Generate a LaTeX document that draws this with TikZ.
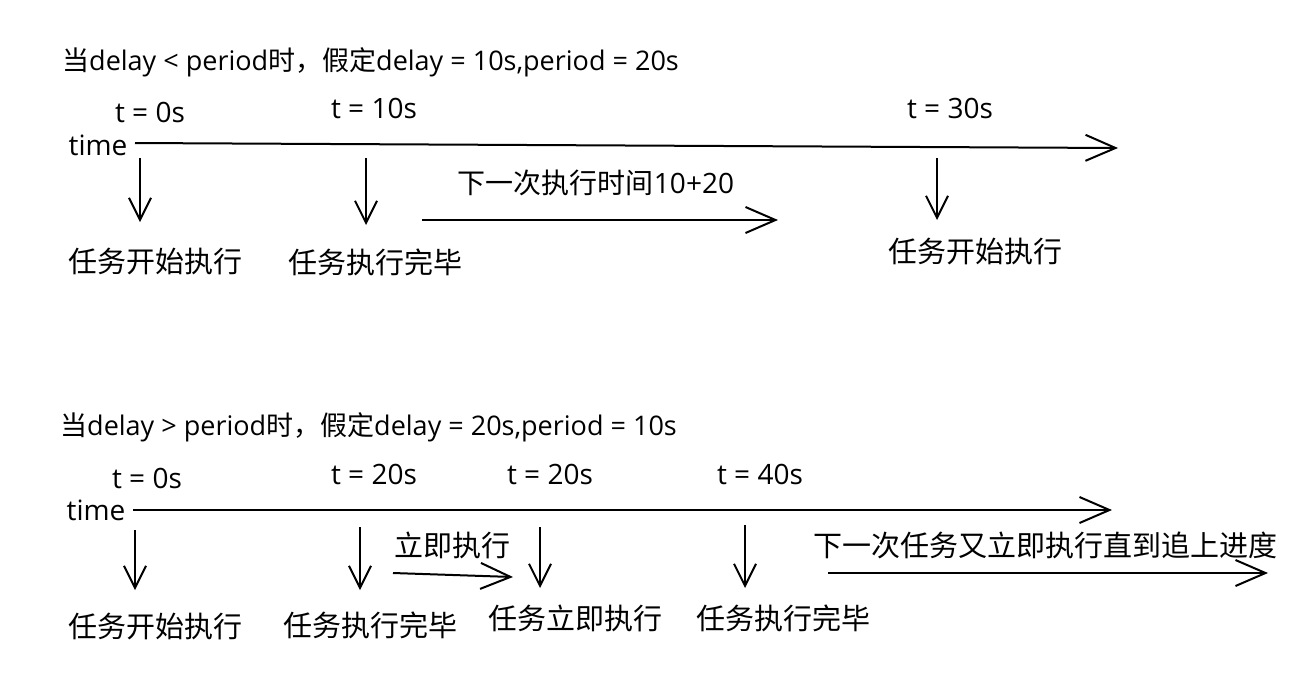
\documentclass[tikz,border=0pt]{standalone}
\usepackage{fontspec}
\setmainfont{Open Sans}
\newfontfamily\cjk{Noto Sans CJK SC}
\usetikzlibrary{arrows.meta}
\begin{document}
\begin{tikzpicture}[x=1pt,y=-1pt,
  txt/.style={font=\fontsize{28}{32}\selectfont,inner sep=0pt},
  big/.style={font=\fontsize{29}{33}\selectfont\cjk,inner sep=0pt},
  line/.style={line width=2pt,-{Straight Barb[length=30pt,width=26pt,line width=2pt]}},
  down/.style={line width=2pt,-{Straight Barb[length=22pt,width=22pt,line width=2pt]}}]
\useasboundingbox (0,0) rectangle (1313,689);
% top
\node[txt,anchor=west,font=\fontsize{27}{31}\selectfont] (t1) at (62,62) {{\cjk 当}delay < period{\cjk 时，假定}delay = 10s,period = 20s};
\node[txt] (a0) at (150,112) {t = 0s};
\node[txt] (a1) at (374,108) {t = 10s};
\node[txt] (a2) at (950,108) {t = 30s};
\node[txt] (tm1) at (98,145) {time};
\coordinate (ts1) at (135,143); \coordinate (te1) at (1118,148);
\draw[line] (ts1) -- (te1);
\coordinate (d1s) at (140,158); \coordinate (d1e) at (140,222);
\coordinate (d2s) at (366,158); \coordinate (d2e) at (366,225);
\coordinate (d3s) at (937,158); \coordinate (d3e) at (937,220);
\draw[down] (d1s) -- (d1e);
\draw[down] (d2s) -- (d2e);
\draw[down] (d3s) -- (d3e);
\node[big,font=\fontsize{28}{32}\selectfont] (n1) at (596,183) {{\cjk 下一次执行时间}10+20};
\coordinate (n1s) at (422,220); \coordinate (n1e) at (778,220);
\draw[line] (n1s) -- (n1e);
\node[big] (l1) at (155,262) {任务开始执行};
\node[big] (l2) at (375,262) {任务执行完毕};
\node[big] (l3) at (975,252) {任务开始执行};
% bottom
\node[txt,anchor=west,font=\fontsize{27}{31}\selectfont] (t2) at (60,427) {{\cjk 当}delay > period{\cjk 时，假定}delay = 20s,period = 10s};
\node[txt] (b0) at (147,478) {t = 0s};
\node[txt] (b1) at (374,474) {t = 20s};
\node[txt] (b2) at (550,474) {t = 20s};
\node[txt] (b3) at (760,474) {t = 40s};
\node[txt] (tm2) at (96,510) {time};
\coordinate (ts2) at (133,510); \coordinate (te2) at (1112,510);
\draw[line] (ts2) -- (te2);
\coordinate (e1s) at (135,530); \coordinate (e1e) at (135,590);
\coordinate (e2s) at (360,527); \coordinate (e2e) at (360,590);
\coordinate (e3s) at (540,527); \coordinate (e3e) at (540,588);
\coordinate (e4s) at (745,525); \coordinate (e4e) at (745,588);
\draw[down] (e1s) -- (e1e);
\draw[down] (e2s) -- (e2e);
\draw[down] (e3s) -- (e3e);
\draw[down] (e4s) -- (e4e);
\node[big] (m1) at (452,545) {立即执行};
\coordinate (m1s) at (393,573); \coordinate (m1e) at (513,577);
\draw[line] (m1s) -- (m1e);
\node[big] (m2) at (1045,545) {下一次任务又立即执行直到追上进度};
\coordinate (m2s) at (828,573); \coordinate (m2e) at (1268,573);
\draw[line] (m2s) -- (m2e);
\node[big] (k1) at (155,627) {任务开始执行};
\node[big] (k2) at (370,625) {任务执行完毕};
\node[big] (k3) at (575,618) {任务立即执行};
\node[big] (k4) at (783,618) {任务执行完毕};
\end{tikzpicture}
\end{document}
